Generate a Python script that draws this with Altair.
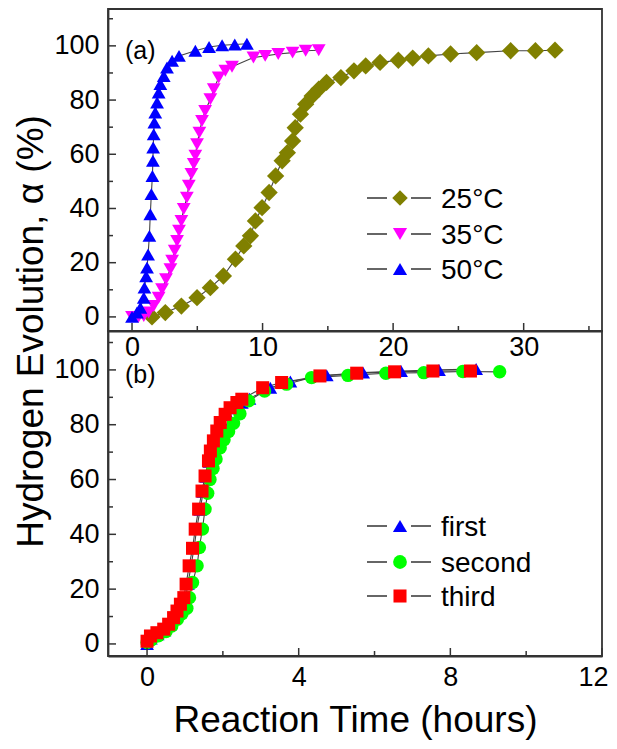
import altair as alt
import pandas as pd

# ---------------- Panel (a): temperature series ----------------
t25 = [1.53, 2.55, 3.78, 4.98, 6.0, 7.0, 7.92, 8.56, 9.07, 9.45, 9.96, 10.5, 11.0, 11.5,
       11.9, 12.3, 12.5, 12.9, 13.3, 13.8, 14.3, 14.9, 16.0, 17.0, 17.9, 19.0, 20.4, 21.5,
       22.7, 24.4, 26.4, 29.0, 30.9, 32.4]
a25 = [0, 1.6, 4, 7.1, 10.8, 15.1, 21.3, 26.2, 29.9, 35.4, 40.3, 45.9, 52, 57.6,
       60.6, 64.9, 69.8, 74.8, 78.5, 81.5, 84, 86.5, 88.3, 90.8, 92.6, 93.9, 94.7, 95.5,
       96.3, 97, 97.5, 98.2, 98.2, 98.4]

t35 = [0.0, 0.5, 0.9, 1.27, 1.66, 2.04, 2.3, 2.6, 2.94, 3.07, 3.27, 3.45, 3.6, 3.78, 3.96,
       4.2, 4.35, 4.55, 4.73, 4.85, 4.98, 5.16, 5.36, 5.6, 6.0, 6.26, 6.64, 7.15, 7.66,
       9.3, 10.2, 11.2, 12.3, 13.3, 14.3]
a35 = [0, 0, 0.3, 1.6, 4, 7.1, 10.2, 13.9, 17.6, 20.7, 24.4, 28, 31.8, 35.4, 39.8,
       44, 48.4, 52.7, 56.4, 59.5, 63.7, 68, 72.3, 76, 80.3, 84, 88.3, 90.8, 92.3,
       95.7, 96.3, 97, 97.5, 98.2, 98.4]

t50 = [0, 0.38, 0.64, 0.9, 0.95, 1.08, 1.15, 1.23, 1.33, 1.4, 1.48, 1.56, 1.6, 1.62, 1.66,
       1.71, 1.78, 1.92, 2.04, 2.17, 2.43, 2.68, 3.07, 3.6, 4.85, 5.9, 6.9, 7.87, 8.8]
a50 = [0, 1.6, 3.4, 7.1, 10.8, 15, 18.2, 23, 29.9, 37.9, 45.3, 52, 57.6, 62.5, 67.4,
       71.7, 75.4, 79.1, 82.8, 85.9, 88.9, 92, 94.5, 96.3, 98.2, 99.6, 100.2, 100.5, 100.8]

# ---------------- Panel (b): cycle series ----------------
t_first = [0, 0.1, 0.28, 0.46, 0.6, 0.74, 0.84, 0.94, 1.02, 1.08, 1.16, 1.24, 1.31, 1.4,
           1.48, 1.56, 1.65, 1.72, 1.8, 1.9, 2.0, 2.13, 2.3, 2.5, 2.7, 3.25, 3.78, 4.74,
           5.7, 6.7, 7.7, 8.68]
a_first = [0, 2, 3.5, 5, 7, 9.5, 12, 14.5, 17, 22, 28.5, 35, 42, 49,
           55.5, 61, 66.5, 70.5, 74, 77.5, 80.5, 83.5, 86, 88, 89.5, 93.5, 95.8, 98,
           99, 99.6, 100, 100.3]

t_second = [0, 0.12, 0.3, 0.5, 0.65, 0.8, 0.92, 1.05, 1.12, 1.2, 1.32, 1.38, 1.46, 1.53,
            1.6, 1.66, 1.74, 1.82, 1.93, 2.03, 2.15, 2.28, 2.45, 2.68, 3.1, 3.68, 4.34,
            5.3, 6.3, 7.3, 8.33, 9.3]
a_second = [0.5, 1.5, 3, 4.5, 6.5, 9, 11, 13, 16.9, 22.4, 28.5, 35.2, 41.9, 49.2,
            55, 60, 64, 67.5, 71.6, 74.5, 77.5, 80.5, 84, 88.7, 92.3, 94.8, 97.2,
            98, 98.8, 99, 99.4, 99.3]

t_third = [0, 0.09, 0.26, 0.44, 0.57, 0.7, 0.79, 0.88, 0.97, 1.03, 1.11, 1.2, 1.27, 1.36,
           1.45, 1.53, 1.62, 1.67, 1.75, 1.84, 1.93, 2.06, 2.19, 2.37, 2.5, 3.05, 3.55,
           4.56, 5.53, 6.53, 7.54, 8.53]
a_third = [1, 2.9, 4.1, 5.4, 7.2, 9.6, 12, 14.5, 16.9, 21.8, 28.5, 34.9, 41.9, 49.2,
           55.8, 61.3, 66.8, 70.4, 74.1, 77.7, 80.8, 83.8, 86.2, 88.1, 89.3, 93.5, 95.4,
           97.8, 98.8, 99.3, 99.6, 99.6]

# ---------------- ticks / labels ----------------
y_major = [0, 20, 40, 60, 80, 100]
y_minor = [10, 30, 50, 70, 90, 110]
xa_major = [0, 10, 20, 30]
xa_minor = [5, 15, 25, 35]
xb_major = [0, 4, 8, 12]
xb_minor = [2, 6, 10]

labels_a = ["25°C", "35°C", "50°C"]
labels_b = ["first", "second", "third"]

FONT = "Liberation Sans"
INK = "#333333"
W, HA, HB = 494, 322, 325

xs_a = alt.Scale(domain=[-1.84, 36.0], nice=False, zero=False)
ys_a = alt.Scale(domain=[-5.2, 113.6], nice=False, zero=False)
xs_b = alt.Scale(domain=[-1.03, 12.0], nice=False, zero=False)
ys_b = alt.Scale(domain=[-4.4, 114.2], nice=False, zero=False)

common = dict(grid=False, ticks=False, tickSize=0, domain=True, domainColor=INK,
              domainWidth=1.8, labelFont=FONT, labelFontSize=27, labelColor="black",
              labelOverlap=False)
ax_xa = alt.Axis(values=xa_major, labelPadding=3, labelFlush=False, title=None, **common)
ax_ya = alt.Axis(values=y_major, labelPadding=9, labelFlush=False,
                 title="Hydrogen Evolution, α (%)",
                 titleFont=FONT, titleFontSize=37, titleFontWeight="normal",
                 titleColor="black", titleX=-77, titleY=HA, titleAngle=270,
                 titleAlign="center", titleBaseline="middle", **common)
ax_xb = alt.Axis(values=xb_major, labelPadding=8, labelFlush=True, labelFlushOffset=6,
                 title="Reaction Time (hours)",
                 titleFont=FONT, titleFontSize=37, titleFontWeight="normal",
                 titleColor="black", titleY=64, titleBaseline="middle", **common)
ax_yb = alt.Axis(values=y_major, labelPadding=9, labelFlush=False, title=None, **common)


def series(t, a, xs, ys, axx, axy, shape, color, size):
    df = pd.DataFrame({"t": t, "a": a})
    base = alt.Chart(df).encode(x=alt.X("t:Q", scale=xs, axis=axx),
                                y=alt.Y("a:Q", scale=ys, axis=axy))
    line = base.mark_line(color="#444444", strokeWidth=1.1)
    pts = base.mark_point(shape=shape, filled=True, size=size, color=color,
                          opacity=1, strokeWidth=0)
    return line, pts


def yticks(vals, length, ys, axy):
    return alt.Chart(pd.DataFrame({"v": vals})).mark_rule(color=INK, strokeWidth=1.5).encode(
        y=alt.Y("v:Q", scale=ys, axis=axy), x=alt.value(0), x2=alt.value(length))


def xticks(vals, length, xs, axx, h):
    return alt.Chart(pd.DataFrame({"v": vals})).mark_rule(color=INK, strokeWidth=1.5).encode(
        x=alt.X("v:Q", scale=xs, axis=axx), y=alt.value(h), y2=alt.value(h - length))


def legend(labels, shapes, colors, sizes, rows):
    out = []
    for lab, shp, col, sz, ry in zip(labels, shapes, colors, sizes, rows):
        one = alt.Chart(pd.DataFrame({"label": [lab]}))
        out.append(one.mark_rule(color=INK, strokeWidth=1.5).encode(
            x=alt.value(259), x2=alt.value(279), y=alt.value(ry)))
        out.append(one.mark_rule(color=INK, strokeWidth=1.5).encode(
            x=alt.value(303), x2=alt.value(323), y=alt.value(ry)))
        out.append(one.mark_point(shape=shp, filled=True, size=sz, color=col, opacity=1,
                                  strokeWidth=0).encode(x=alt.value(292), y=alt.value(ry)))
        out.append(one.mark_text(align="left", baseline="middle", font=FONT, fontSize=28,
                                 color="black").encode(
            x=alt.value(333), y=alt.value(ry + 1.5), text="label:N"))
    return out


def panel_label(txt, y):
    return alt.Chart(pd.DataFrame({"label": [txt]})).mark_text(
        align="left", baseline="middle", font=FONT, fontSize=25, color="black").encode(
        x=alt.value(17), y=alt.value(y), text="label:N")


# ---- top panel ----
la = []
l25, p25 = series(t25, a25, xs_a, ys_a, ax_xa, ax_ya, "diamond", "#808000", 300)
l35, p35 = series(t35, a35, xs_a, ys_a, ax_xa, ax_ya, "triangle-down", "#FF00FF", 190)
l50, p50 = series(t50, a50, xs_a, ys_a, ax_xa, ax_ya, "triangle-up", "#0000FF", 190)
la += [l25, l35, l50, p25, p35, p50]
la += [yticks(y_major, 8, ys_a, ax_ya), yticks(y_minor, 5, ys_a, ax_ya),
       xticks(xa_major, 8, xs_a, ax_xa, HA), xticks(xa_minor, 5, xs_a, ax_xa, HA)]
la += legend(labels_a, ["diamond", "triangle-down", "triangle-up"],
             ["#808000", "#FF00FF", "#0000FF"], [240, 200, 200], [189, 225, 260])
la.append(panel_label("(a)", 42))
top = alt.layer(*la).properties(width=W, height=HA)

# ---- bottom panel ----
lb = []
l1, p1 = series(t_first, a_first, xs_b, ys_b, ax_xb, ax_yb, "triangle-up", "#0000FF", 190)
l2, p2 = series(t_second, a_second, xs_b, ys_b, ax_xb, ax_yb, "circle", "#00FF00", 180)
l3, p3 = series(t_third, a_third, xs_b, ys_b, ax_xb, ax_yb, "square", "#FF0000", 170)
lb += [l1, l2, l3, p1, p2, p3]
lb += [yticks(y_major, 8, ys_b, ax_yb), yticks(y_minor, 5, ys_b, ax_yb),
       xticks(xb_major, 8, xs_b, ax_xb, HB), xticks(xb_minor, 5, xs_b, ax_xb, HB)]
lb += legend(labels_b, ["triangle-up", "circle", "square"],
             ["#0000FF", "#00FF00", "#FF0000"], [200, 190, 170], [195, 231, 265])
lb.append(panel_label("(b)", 44))
bottom = alt.layer(*lb).properties(width=W, height=HB)

chart = alt.vconcat(top, bottom, spacing=0, bounds="flush").properties(
    padding={"left": 3, "top": 0, "right": 0, "bottom": 2}
).configure_view(stroke=INK, strokeWidth=1.8)

chart.save("out.html", embed_options={"renderer": "svg", "actions": False})
